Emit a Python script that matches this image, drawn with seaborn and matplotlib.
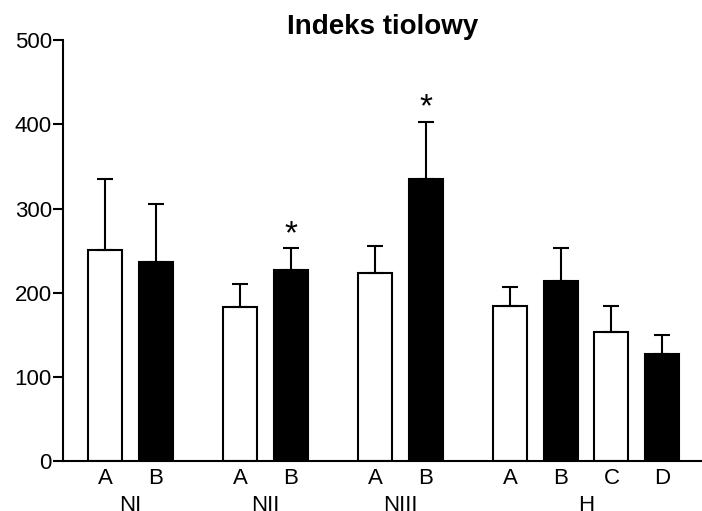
import numpy as np
import pandas as pd
import seaborn as sns
import matplotlib.pyplot as plt

# thiol index, mean and SD
groups = ['NI', 'NI', 'NII', 'NII', 'NIII', 'NIII', 'H', 'H', 'H', 'H']
labels = ['A', 'B', 'A', 'B', 'A', 'B', 'A', 'B', 'C', 'D']
means = [251, 237, 183, 227, 223, 335, 184, 214, 154, 127]
sds = [84, 68, 27, 26, 32, 68, 23, 39, 30, 23]
signif = [False, False, False, True, False, True, False, False, False, False]

# bar positions: one slot per bar, extra gap between groups
gap = 0.67
pos = []
x = 0.0
for i, g in enumerate(groups):
    if i > 0 and g != groups[i - 1]:
        x += gap
    pos.append(round(x, 3))
    x += 1

df = pd.DataFrame({'pos': pos, 'mean': means, 'sd': sds,
                   'label': labels, 'group': groups})

sns.set_theme(style='ticks')
plt.rcParams['font.family'] = ['Liberation Sans', 'DejaVu Sans']
plt.rcParams['text.color'] = 'black'

fig = plt.figure(figsize=(7.02, 5.11), dpi=100)
ax = fig.add_axes([63 / 702, 1 - 461.3 / 511, 1 - 63 / 702, (461.3 - 40) / 511])

pal = {'A': 'white', 'B': 'black', 'C': 'white', 'D': 'black'}
sns.barplot(data=df, x='pos', y='mean', hue='label', palette=pal,
            native_scale=True, dodge=False, width=0.67, edgecolor='black',
            linewidth=1.5, legend=False, errorbar=None, ax=ax)

ax.errorbar(df['pos'], df['mean'], yerr=[np.zeros(len(df)), df['sd']],
            fmt='none', ecolor='black', elinewidth=1.5, capsize=6,
            capthick=1.5, zorder=1)

for p, m, s, sg in zip(pos, means, sds, signif):
    if sg:
        ax.text(p, m + s + 6, '*', ha='center', va='baseline',
                fontsize=24, color='black')

ax.set_xlim(-0.83, 11.8)
ax.set_ylim(0, 500)
ax.set_yticks([0, 100, 200, 300, 400, 500])
ax.set_xticks(pos)
ax.set_xticklabels(labels)
ax.set_xlabel('')
ax.set_ylabel('')
ax.tick_params(axis='x', length=0, pad=5, labelsize=16, colors='black')
ax.tick_params(axis='y', length=7, width=1.5, pad=1, labelsize=16, colors='black')

# group names under the letters
for g in dict.fromkeys(groups):
    gp = [p for p, gg in zip(pos, groups) if gg == g]
    ax.annotate(g, xy=(np.mean(gp), 0), xycoords=('data', 'axes fraction'),
                xytext=(0, -24), textcoords='offset points',
                ha='center', va='top', fontsize=16, color='black')

sns.despine(ax=ax)
for sp in ['left', 'bottom']:
    ax.spines[sp].set_linewidth(1.5)
    ax.spines[sp].set_color('black')

ax.set_title('Indeks tiolowy', fontsize=20, fontweight='bold', pad=3,
             color='black')

fig.savefig('out.png', dpi=100)
